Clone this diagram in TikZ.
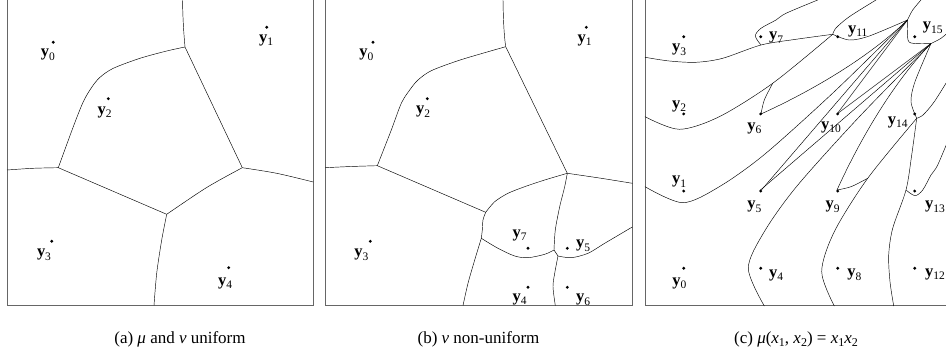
\documentclass[tikz,border=0pt]{standalone}
\usepackage{fontspec}
\setmainfont{Liberation Serif}
\usetikzlibrary{positioning}

\newcommand{\yl}[1]{\textbf{y}\raisebox{-3.5pt}{\fontsize{11.5}{12}\selectfont #1}}
\newcommand{\xs}[1]{\textit{x}\raisebox{-3pt}{\fontsize{12}{12}\selectfont #1}}

% one half of the cell edges of panel (c), in (u,v) with v upwards
\newcommand{\halfcells}{%
  \draw[cell] plot[smooth] coordinates {(0,248.7) (24.3,245) (51,243.7) (77.7,247.7) (116,261) (151,266.7) (187.7,271.7)};
  \draw[cell] plot[smooth] coordinates {(116,261) (110.3,270) (116,277.7) (131,286) (141,292.7) (172.7,306)};
  \draw[cell] plot[smooth] coordinates {(187.7,271.7) (191,278) (204.3,289.3) (231,306)};
  \draw[cell] plot[smooth] coordinates {(187.7,271.7) (204.3,266) (224.3,270) (262.5,286)};
  \draw[cell] plot[smooth] coordinates {(262.5,286) (267.7,296) (276,306)};
  \draw[cell] plot[smooth] coordinates {(0,189.3) (34.3,176.7) (74.3,189.3) (127.7,222.7) (187.7,271.7)};
  \draw[cell] plot[smooth] coordinates {(127.7,222.7) (119.3,206) (116,192)};
  \draw[cell] (116,192) .. controls (160,212) and (220,245) .. (262.5,286);
  \draw[cell] (192,192) -- (262.5,286);
  \draw[cell] (116,115.5) -- (262.5,286);
  \draw[cell] plot[smooth] coordinates {(0,119.3) (37.7,103.3) (74.3,119.3) (120,152) (190,215) (262.5,286)};
}

\begin{document}
\begin{tikzpicture}[x=1pt, y=-1pt,
    frame/.style={draw=black!60, line width=0.9pt},
    cell/.style={draw=black, line width=0.45pt},
    dot/.style={circle, fill=black, inner sep=0pt, minimum size=3.2pt},
    lbl/.style={font=\fontsize{16.5}{17}\selectfont, inner sep=0pt},
    caption/.style={font=\fontsize{17}{19}\selectfont, anchor=base}
  ]
  \useasboundingbox (0,0) rectangle (946,352);

  % (a) mu and nu uniform
  \draw[frame] (7,0) -- (7,305.5) -- (313.3,305.5) -- (313.3,0);
  \coordinate (aA) at (185,47);
  \coordinate (aB) at (58.3,167.7);
  \coordinate (aC) at (242.3,167.7);
  \coordinate (aD) at (166.7,214.3);
  \draw[cell] (182.5,0) .. controls (183,25) and (184,35) .. (aA);
  \draw[cell] plot[smooth] coordinates {(185,47) (166.7,51) (140,58.3) (113.3,68.3) (100,77.3) (91.7,87.3) (83.3,101.7) (73.3,126.7) (58.3,167.7)};
  \draw[cell] plot[smooth] coordinates {(58.3,167.7) (33,168.3) (7,170)};
  \draw[cell] (aA) -- (aC);
  \draw[cell] (aB) -- (aD);
  \draw[cell] plot[smooth] coordinates {(242.3,167.7) (206.7,187.5) (166.7,214.3)};
  \draw[cell] plot[smooth] coordinates {(242.3,167.7) (276.7,173.3) (313.3,182)};
  \draw[cell] plot[smooth] coordinates {(166.7,214.3) (161.7,240) (156.7,273.3) (154,305.5)};
  \node[dot] (a0) at (53.3,42.3) {};
  \node[dot] (a1) at (266.7,27.3) {};
  \node[dot] (a2) at (108.3,98.7) {};
  \node[dot] (a3) at (51.7,241.3) {};
  \node[dot] (a4) at (228.7,267.7) {};
  \node[lbl] (a0l) at (48,55) {\yl{0}};
  \node[lbl] (a1l) at (266,40) {\yl{1}};
  \node[lbl] (a2l) at (104.7,112) {\yl{2}};
  \node[lbl] (a3l) at (44,255) {\yl{3}};
  \node[lbl] (a4l) at (225,283) {\yl{4}};

  % (b) nu non-uniform
  \draw[frame] (325.3,0) -- (325.3,305.5) -- (632.3,305.5) -- (632.3,0);
  \coordinate (bA) at (505.7,46.7);
  \coordinate (bB) at (377.3,165.7);
  \coordinate (bC) at (567.3,173.3);
  \coordinate (bD) at (485.7,212.3);
  \coordinate (bE) at (554,250);
  \coordinate (bG) at (558,256);
  \draw[cell] (503,0) .. controls (503.3,20) and (504,35) .. (bA);
  \draw[cell] plot[smooth] coordinates {(505.7,46.7) (484.7,52.7) (458,60.7) (431.3,70.7) (418,80) (409.7,90) (401.3,103.3) (391.3,130) (377.3,165.7)};
  \draw[cell] plot[smooth] coordinates {(377.3,165.7) (351,166.5) (325.3,167.7)};
  \draw[cell] (bA) -- (bC);
  \draw[cell] (bB) -- (bD);
  \draw[cell] plot[smooth] coordinates {(485.7,212.3) (494.7,201.7) (508,193.3) (524.7,186.7) (544.7,180) (567.3,173.3)};
  \draw[cell] plot[smooth] coordinates {(567.3,173.3) (601.3,178.3) (632.3,183.3)};
  \draw[cell] plot[smooth] coordinates {(567.3,173.3) (564.7,186.7) (559.7,206.7) (555.3,230) (554,250)};
  \draw[cell] plot[smooth] coordinates {(485.7,212.3) (483,220) (482.3,230) (481.3,238.3)};
  \draw[cell] plot[smooth] coordinates {(481.3,238.3) (474.7,260) (468,283.3) (463,305.5)};
  \draw[cell] plot[smooth] coordinates {(481.3,238.3) (498,248.3) (514.7,256) (528,257.7) (544.7,254.3) (554,250)};
  \draw[cell] (bE) -- (bG);
  \draw[cell] plot[smooth] coordinates {(558,256) (571.3,257.7) (588,253.3) (604.7,243.3) (632.3,227)};
  \draw[cell] plot[smooth] coordinates {(558,256) (554.7,273.3) (553,286.7) (555.3,305.5)};
  \node[dot] (b0) at (373,42.3) {};
  \node[dot] (b1) at (586.3,27.3) {};
  \node[dot] (b2) at (427.3,98.7) {};
  \node[dot] (b3) at (370.3,241.3) {};
  \node[dot] (b4) at (528,287.3) {};
  \node[dot] (b5) at (567.3,248.3) {};
  \node[dot] (b6) at (567.3,287.3) {};
  \node[dot] (b7) at (528,248.3) {};
  \node[lbl] (b0l) at (366.3,55) {\yl{0}};
  \node[lbl] (b1l) at (584.7,40) {\yl{1}};
  \node[lbl] (b2l) at (423,111.7) {\yl{2}};
  \node[lbl] (b3l) at (361.3,255) {\yl{3}};
  \node[lbl] (b4l) at (519.7,299) {\yl{4}};
  \node[lbl] (b5l) at (583,246) {\yl{5}};
  \node[lbl] (b6l) at (583,300) {\yl{6}};
  \node[lbl] (b7l) at (519.7,235) {\yl{7}};

  % (c) mu(x1,x2) = x1 x2, symmetric about the diagonal
  \draw[frame] (645,0) -- (645,305.5) -- (951,305.5);
  \begin{scope}[x=1pt, y=1pt, shift={(645pt,-306pt)}]
    \halfcells
    \draw[cell] plot[smooth] coordinates {(262.5,286) (262.3,274) (264,264) (274,262.3) (286,262.5)};
  \end{scope}
  \begin{scope}[x=1pt, y=1pt, shift={(645pt,-306pt)}, cm={0,1,1,0,(0,0)}]
    \halfcells
  \end{scope}
  \foreach \i in {0,...,3}
    \foreach \j in {0,...,3} {
      \pgfmathtruncatemacro{\k}{4*\i+\j}
      \node[dot] (c\k) at (683.7+77*\i, 268.3-77.2*\j) {};
    }
  \node[lbl] (c0l) at (679.3,283.3) {\yl{0}};
  \node[lbl] (c1l) at (679,181.7) {\yl{1}};
  \node[lbl] (c2l) at (679,106) {\yl{2}};
  \node[lbl] (c3l) at (679,50) {\yl{3}};
  \node[lbl] (c4l) at (776,275) {\yl{4}};
  \node[lbl] (c5l) at (754.3,206.7) {\yl{5}};
  \node[lbl] (c6l) at (754.3,128.3) {\yl{6}};
  \node[lbl] (c7l) at (776,37.7) {\yl{7}};
  \node[lbl] (c8l) at (854.3,275) {\yl{8}};
  \node[lbl] (c9l) at (832.7,206.7) {\yl{9}};
  \node[lbl] (c10l) at (831,127.3) {\yl{10}};
  \node[lbl] (c11l) at (857.7,31) {\yl{11}};
  \node[lbl] (c12l) at (935,274) {\yl{12}};
  \node[lbl] (c13l) at (935,207) {\yl{13}};
  \node[lbl] (c14l) at (897.7,122.3) {\yl{14}};
  \node[lbl] (c15l) at (932.7,27.7) {\yl{15}};

  % captions
  \node[caption] (capa) at (180,344) {(a) \textit{μ} and \textit{ν} uniform};
  \node[caption] (capb) at (478.5,344) {(b) \textit{ν} non-uniform};
  \node[caption] (capc) at (796,344) {(c) \textit{μ}(\xs{1}, \xs{2}) = \xs{1}\xs{2}};
\end{tikzpicture}
\end{document}
